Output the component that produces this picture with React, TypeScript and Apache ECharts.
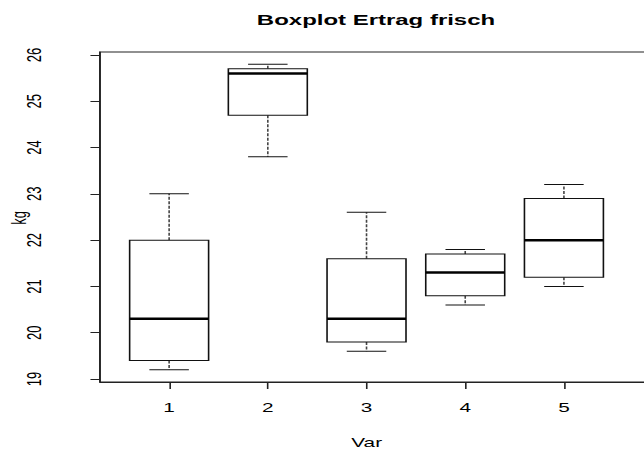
import React, { useEffect, useRef } from "react";
import * as echarts from "echarts";

// Data
const categories = [1, 2, 3, 4, 5];
const lowWhisker = [19.2, 23.8, 19.6, 20.6, 21.0];
const q1 = [19.4, 24.7, 19.8, 20.8, 21.2];
const median = [20.3, 25.6, 20.3, 21.3, 22.0];
const q3 = [22.0, 25.7, 21.6, 21.7, 22.9];
const highWhisker = [23.0, 25.8, 22.6, 21.8, 23.2];
const yTicks = [19, 20, 21, 22, 23, 24, 25, 26];

const TITLE = "Boxplot Ertrag frisch";
const X_NAME = "Var";
const Y_NAME = "kg";

const INNER_W = 403;
const SCALE_X = 644 / INNER_W;
const FONT = "'Liberation Sans', Arial, Helvetica, sans-serif";

export default function App() {
  const ref = useRef<HTMLDivElement>(null);

  useEffect(() => {
    if (!ref.current) return;
    const chart = echarts.init(ref.current, undefined, { renderer: "svg" });
    const data = categories.map((c, i) => [c, lowWhisker[i], q1[i], median[i], q3[i], highWhisker[i]]);

    const gridLeft = 62.6;
    const gridRight = -10;
    const pxPerUnit = 98.7 / SCALE_X;
    const xMin = 0.3;
    const xMax = xMin + (INNER_W - gridRight - gridLeft) / pxPerUnit;

    const option: any = {
      animation: false,
      backgroundColor: "#fff",
      grid: {
        left: gridLeft,
        right: gridRight,
        top: 52,
        bottom: 68,
        containLabel: false,
        outerBoundsMode: "none",
        show: true,
        borderColor: "#222",
        borderWidth: 1,
        backgroundColor: "transparent",
      },
      xAxis: {
        type: "value",
        min: xMin,
        max: xMax,
        axisLine: { show: true, onZero: false, lineStyle: { color: "#222", width: 1 } },
        axisTick: { show: true, customValues: categories, length: 7, lineStyle: { color: "#222" } },
        axisLabel: {
          customValues: categories,
          margin: 19,
          fontSize: 13,
          color: "#000",
          fontFamily: FONT,
        },
        splitLine: { show: false },
      },
      yAxis: {
        type: "value",
        min: 18.936,
        max: 26.064,
        axisLine: { show: true, onZero: false, lineStyle: { color: "#222", width: 1 } },
        axisTick: { show: true, customValues: yTicks, length: 6, lineStyle: { color: "#222" } },
        axisLabel: {
          customValues: yTicks,
          rotate: 90,
          margin: 35,
          fontSize: 13,
          color: "#000",
          fontFamily: FONT,
        },
        splitLine: { show: false },
      },
      graphic: [
        {
          type: "text",
          x: 376 / SCALE_X,
          y: 20,
          style: {
            text: TITLE,
            fontSize: 15,
            fontWeight: "bold",
            fontFamily: FONT,
            fill: "#000",
            align: "center",
            verticalAlign: "middle",
          },
        },
        {
          type: "text",
          x: 366.7 / SCALE_X,
          y: 442,
          style: {
            text: X_NAME,
            fontSize: 13,
            fontFamily: FONT,
            fill: "#000",
            align: "center",
            verticalAlign: "middle",
          },
        },
        {
          type: "text",
          x: 12,
          y: 218,
          rotation: Math.PI / 2,
          style: {
            text: Y_NAME,
            fontSize: 13,
            fontFamily: FONT,
            fill: "#000",
            align: "center",
            verticalAlign: "middle",
          },
        },
      ],
      series: [
        {
          type: "custom",
          data,
          encode: { x: 0, y: [1, 2, 3, 4, 5] },
          renderItem: (params: any, api: any) => {
            const x = api.value(0);
            const lo = api.value(1);
            const b1 = api.value(2);
            const md = api.value(3);
            const b3 = api.value(4);
            const hi = api.value(5);
            const boxHalf = 0.4;
            const capHalf = 0.2;
            const tl = api.coord([x - boxHalf, b3]);
            const br = api.coord([x + boxHalf, b1]);
            const mL = api.coord([x - boxHalf, md]);
            const mR = api.coord([x + boxHalf, md]);
            const cTop = api.coord([x, b3]);
            const cHi = api.coord([x, hi]);
            const cBot = api.coord([x, b1]);
            const cLo = api.coord([x, lo]);
            const capHiL = api.coord([x - capHalf, hi]);
            const capHiR = api.coord([x + capHalf, hi]);
            const capLoL = api.coord([x - capHalf, lo]);
            const capLoR = api.coord([x + capHalf, lo]);
            const solid = { stroke: "#111", lineWidth: 1, fill: "none" };
            const dashed = { stroke: "#444", lineWidth: 1, lineDash: [3, 1.5] };
            return {
              type: "group",
              children: [
                { type: "line", shape: { x1: cTop[0], y1: cTop[1], x2: cHi[0], y2: cHi[1] }, style: dashed },
                { type: "line", shape: { x1: cBot[0], y1: cBot[1], x2: cLo[0], y2: cLo[1] }, style: dashed },
                { type: "line", shape: { x1: capHiL[0], y1: capHiL[1], x2: capHiR[0], y2: capHiR[1] }, style: solid },
                { type: "line", shape: { x1: capLoL[0], y1: capLoL[1], x2: capLoR[0], y2: capLoR[1] }, style: solid },
                {
                  type: "rect",
                  shape: { x: tl[0], y: tl[1], width: br[0] - tl[0], height: br[1] - tl[1] },
                  style: { stroke: "#111", lineWidth: 1, fill: "#fff" },
                },
                { type: "line", shape: { x1: mL[0], y1: mL[1], x2: mR[0], y2: mR[1] }, style: { stroke: "#000", lineWidth: 2.5 } },
              ],
            };
          },
        },
      ],
    };
    chart.setOption(option);
    return () => chart.dispose();
  }, []);

  return (
    <div style={{ position: "fixed", left: 0, top: 0, width: 644, height: 450, overflow: "hidden", background: "#fff" }}>
      <div
        ref={ref}
        style={{ width: INNER_W, height: 450, transform: `scaleX(${SCALE_X})`, transformOrigin: "0 0" }}
      />
    </div>
  );
}
